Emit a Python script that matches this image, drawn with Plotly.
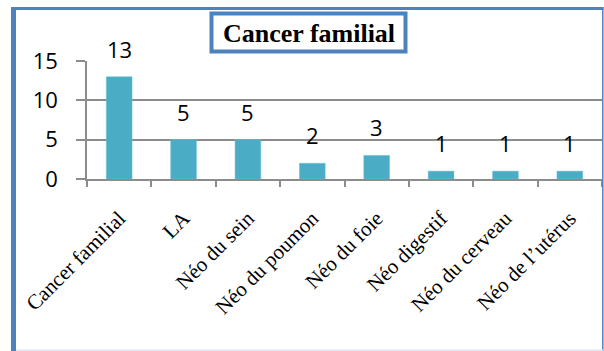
import plotly.graph_objects as go

categories = ["Cancer familial", "LA", "Néo du sein", "Néo du poumon",
              "Néo du foie", "Néo digestif", "Néo du cerveau", "Néo de l’utérus"]
counts = [13, 5, 5, 2, 3, 1, 1, 1]
y_ticks = [0, 5, 10, 15]
title_text = "Cancer familial"

W, H = 604, 351
L, R, T, B = 87, 2, 61, 172
PW, PH = W - L - R, H - T - B


def px(x):
    return (x - L) / PW


def py(y):
    return (H - B - y) / PH


BLUE = "#4f81bd"
GRID = "#8c8c8c"
NUM_FONT = dict(family="Open Sans, Liberation Sans, sans-serif", size=22, color="#000000")

fig = go.Figure()
fig.add_trace(go.Bar(
    x=categories, y=counts,
    marker=dict(color="#4bacc6", line=dict(color="#6cc0d6", width=0.5)),
    width=0.4, hoverinfo="skip",
))

annotations = [
    dict(x=c, y=v, xref="x", yref="y", text=str(v), showarrow=False,
         yanchor="bottom", yshift=11, font=NUM_FONT)
    for c, v in zip(categories, counts)
]
annotations.append(dict(
    x=px(308.5), y=py(33), xref="paper", yref="paper", text="<b>" + title_text + "</b>",
    showarrow=False, xanchor="center", yanchor="middle",
    font=dict(family="Liberation Serif, Times New Roman, serif", size=26, color="#000000"),
))

shapes = [
    # outer frame
    dict(type="line", xref="paper", yref="paper", x0=px(13.5), x1=px(13.5), y0=py(7), y1=py(351),
         line=dict(color=BLUE, width=5), layer="above"),
    dict(type="line", xref="paper", yref="paper", x0=px(11), x1=px(603.5), y0=py(8.5), y1=py(8.5),
         line=dict(color=BLUE, width=3), layer="above"),
    dict(type="line", xref="paper", yref="paper", x0=px(602.8), x1=px(602.8), y0=py(7), y1=py(351),
         line=dict(color=BLUE, width=1.5), layer="above"),
    dict(type="line", xref="paper", yref="paper", x0=px(16), x1=px(603), y0=py(350), y1=py(350),
         line=dict(color="#dce6f2", width=1.5), layer="above"),
    # title box
    dict(type="rect", xref="paper", yref="paper", x0=px(211.5), x1=px(405.5), y0=py(13.5), y1=py(51.5),
         line=dict(color=BLUE, width=4), fillcolor="white", layer="above"),
]

fig.update_layout(
    width=W, height=H,
    margin=dict(l=L, r=R, t=T, b=B, pad=0),
    paper_bgcolor="white", plot_bgcolor="white",
    showlegend=False,
    bargap=0.6,
    annotations=annotations,
    shapes=shapes,
    xaxis=dict(
        type="category", range=[-0.5, 7.5],
        showline=True, linecolor=GRID, linewidth=1.5,
        ticks="outside", ticklen=6, tickcolor=GRID, tickwidth=1.5,
        tickson="boundaries", showgrid=False,
        tickangle=-45,
        ticklabelstandoff=17,
        tickfont=dict(family="Liberation Serif, Times New Roman, serif", size=21, color="#000000"),
    ),
    yaxis=dict(
        range=[0, 15], tickvals=y_ticks,
        showline=True, linecolor=GRID, linewidth=1.5,
        ticks="outside", ticklen=9, tickcolor=GRID, tickwidth=1.5,
        showgrid=True, gridcolor=GRID, gridwidth=1.5,
        zeroline=False,
        ticklabelstandoff=14,
        tickfont=NUM_FONT,
    ),
)

fig.write_html("out.html")
